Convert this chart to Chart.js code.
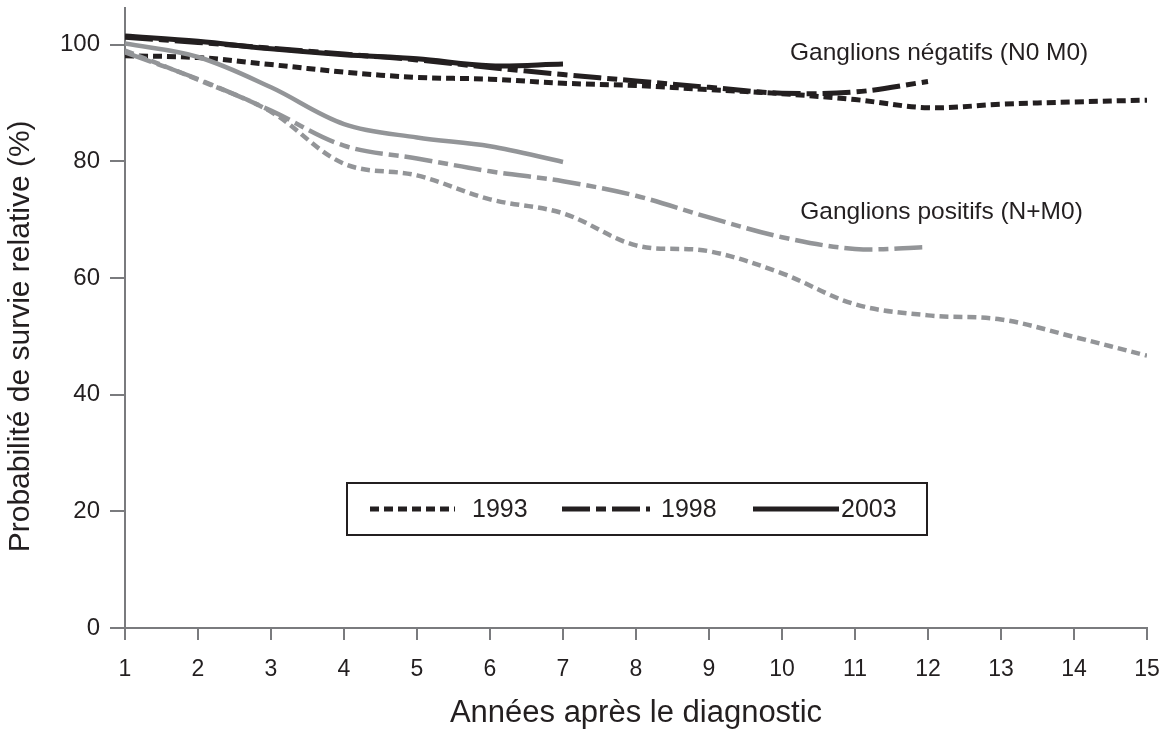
<!DOCTYPE html>
<html>
<head>
<meta charset="utf-8">
<script src="https://cdn.jsdelivr.net/npm/chart.js@4.4.1/dist/chart.umd.min.js"></script>
<style>
  html, body { margin: 0; padding: 0; background: #fff; }
  #cadre { width: 1167px; height: 729px; }
</style>
</head>
<body>
<div id="cadre"><canvas id="survie"></canvas></div>
<script>
// Années après le diagnostic
const annees = [1, 2, 3, 4, 5, 6, 7, 8, 9, 10, 11, 12, 13, 14, 15];
const ticksY = [0, 20, 40, 60, 80, 100];

// Ganglions négatifs (N0 M0) - noir
const neg1993 = [98.1, 97.8, 96.6, 95.3, 94.4, 94.1, 93.4, 93.0, 92.3, 91.6, 90.6, 89.2, 89.8, 90.2, 90.5];
const neg1998 = [101.3, 100.4, 99.4, 98.4, 97.4, 96.1, 94.9, 93.8, 92.7, 91.7, 91.9, 93.7];
const neg2003 = [101.5, 100.6, 99.3, 98.3, 97.6, 96.4, 96.7];

// Ganglions positifs (N+M0) - gris
const pos1993 = [99.0, 94.0, 88.5, 79.6, 77.6, 73.5, 71.1, 65.6, 64.6, 60.8, 55.5, 53.6, 52.9, 49.9, 46.7];
const pos1998 = [98.7, 94.1, 88.7, 82.7, 80.5, 78.3, 76.6, 74.1, 70.4, 67.0, 65.0, 65.3];
const pos2003 = [100.2, 97.9, 92.7, 86.4, 84.1, 82.6, 79.9];

const legende = ["1993", "1998", "2003"];
const etiquettes = ["Ganglions négatifs (N0 M0)", "Ganglions positifs (N+M0)"];
const titreY = "Probabilité de survie relative (%)";

const NOIR = "#231f20";
const GRIS = "#939598";
const AXE = "#7a7b7e";
const POLICE = "'Liberation Sans', Arial, sans-serif";

// traits par année
const traits = {
  "1993": [9, 5],
  "1998": [28, 6, 10, 6],
  "2003": []
};

function points(valeurs) {
  return valeurs.map((v, i) => ({ x: annees[i], y: v }));
}

function serie(valeurs, couleur, annee, epaisseur) {
  return {
    label: annee,
    data: points(valeurs),
    borderColor: couleur,
    borderWidth: epaisseur,
    borderDash: traits[annee],
    borderCapStyle: "butt",
    pointRadius: 0,
    tension: 0.35,
    fill: false
  };
}

// Légende encadrée, titre vertical et textes dans la zone du graphique
const decor = {
  id: "decor",
  afterDraw(chart) {
    const ctx = chart.ctx;
    const x = chart.scales.x, y = chart.scales.y;
    ctx.save();

    // titre de l'axe vertical, centré sur 0-100
    ctx.save();
    ctx.translate(21, y.getPixelForValue(50));
    ctx.rotate(-Math.PI / 2);
    ctx.fillStyle = NOIR;
    ctx.font = "30px " + POLICE;
    ctx.textAlign = "center";
    ctx.textBaseline = "middle";
    ctx.fillText(titreY, 0, 0);
    ctx.restore();

    // étiquettes des groupes
    ctx.fillStyle = NOIR;
    ctx.font = "24.5px " + POLICE;
    ctx.textBaseline = "middle";
    ctx.textAlign = "left";
    ctx.fillText(etiquettes[0], x.getPixelForValue(10.11), y.getPixelForValue(98.6));
    ctx.fillText(etiquettes[1], x.getPixelForValue(10.25), y.getPixelForValue(71.2));

    // boîte de légende
    const bx = 347, by = 483, bw = 580, bh = 52;
    ctx.fillStyle = "#fff";
    ctx.fillRect(bx, by, bw, bh);
    ctx.lineWidth = 2;
    ctx.strokeStyle = NOIR;
    ctx.strokeRect(bx, by, bw, bh);

    const cy = by + bh / 2;
    const echantillons = [[370, 455, 472], [562, 650, 661], [753, 839, 841]];
    legende.forEach((annee, i) => {
      const [x0, x1, tx] = echantillons[i];
      ctx.beginPath();
      ctx.setLineDash(traits[annee]);
      ctx.lineWidth = 5;
      ctx.lineCap = "butt";
      ctx.strokeStyle = NOIR;
      ctx.moveTo(x0, cy);
      ctx.lineTo(x1, cy);
      ctx.stroke();
      ctx.setLineDash([]);
      ctx.fillStyle = NOIR;
      ctx.font = "25px " + POLICE;
      ctx.fillText(annee, tx, cy + 1);
    });
    ctx.restore();
  }
};

const ctx = document.getElementById("survie").getContext("2d");
const graphique = new Chart(ctx, {
  type: "line",
  data: {
    datasets: [
      serie(pos1993, GRIS, "1993", 4.5),
      serie(pos1998, GRIS, "1998", 4.5),
      serie(pos2003, GRIS, "2003", 4.5),
      serie(neg1993, NOIR, "1993", 5),
      serie(neg1998, NOIR, "1998", 5),
      serie(neg2003, NOIR, "2003", 5)
    ]
  },
  options: {
    responsive: true,
    maintainAspectRatio: false,
    animation: false,
    layout: { padding: { top: 8, right: 20, left: 0, bottom: 0 } },
    plugins: {
      legend: { display: false },
      tooltip: { enabled: false }
    },
    scales: {
      x: {
        type: "linear",
        min: 1,
        max: 15,
        ticks: { stepSize: 1, color: NOIR, padding: 16, font: { family: POLICE, size: 23 } },
        grid: { drawOnChartArea: false, drawTicks: true, tickLength: 12, color: AXE, lineWidth: 2 },
        border: { color: AXE, width: 2 },
        title: {
          display: true,
          text: "Années après le diagnostic",
          color: NOIR,
          font: { family: POLICE, size: 31, lineHeight: 1 },
          padding: { top: 0, bottom: 0 }
        },
        afterFit(s) {
          s.height = 101;
          s.paddingLeft = 0;
          s.paddingRight = 0;
        }
      },
      y: {
        min: 0,
        max: 106.3,
        afterBuildTicks(s) { s.ticks = ticksY.map(v => ({ value: v })); },
        ticks: { color: NOIR, padding: 10, font: { family: POLICE, size: 24 } },
        grid: { drawOnChartArea: false, drawTicks: true, tickLength: 15, color: AXE, lineWidth: 2 },
        border: { color: AXE, width: 2 },
        title: { display: false },
        afterFit(s) {
          s.width = 125;
          s.paddingTop = 0;
          s.paddingBottom = 0;
        }
      }
    }
  },
  plugins: [decor]
});
</script>
</body>
</html>
